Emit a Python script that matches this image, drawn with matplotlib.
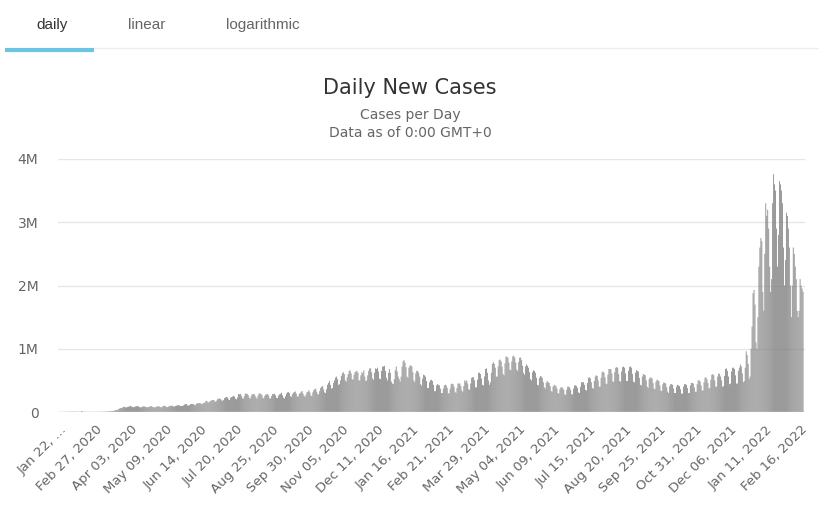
import matplotlib
matplotlib.use('Agg')
from matplotlib import pyplot as plt
from matplotlib.lines import Line2D
import numpy as np

# Daily new cases in thousands, one row per week (starting Wed Jan 22, 2020)
daily_k = [
    1, 0, 0, 1, 1, 1, 1,
    2, 2, 2, 3, 3, 3, 4,
    4, 3, 3, 3, 3, 3, 2,
    2, 15, 6, 3, 3, 2, 2,
    1, 1, 1, 1, 1, 1, 1,
    1, 1, 1, 2, 2, 2, 2,
    2, 3, 3, 4, 4, 4, 5,
    7, 8, 11, 11, 14, 14, 17,
    26, 30, 33, 38, 40, 58, 61,
    63, 72, 80, 82, 76, 71, 80,
    85, 88, 100, 86, 80, 74, 82,
    87, 90, 95, 87, 80, 72, 75,
    85, 88, 88, 82, 77, 73, 78,
    83, 86, 96, 85, 78, 70, 76,
    79, 88, 90, 90, 80, 72, 77,
    88, 95, 98, 90, 77, 77, 88,
    93, 98, 98, 99, 86, 86, 96,
    100, 107, 108, 103, 95, 95, 95,
    105, 118, 124, 126, 104, 102, 108,
    125, 128, 127, 129, 110, 108, 130,
    138, 140, 140, 140, 130, 120, 140,
    145, 148, 178, 172, 152, 152, 168,
    175, 188, 190, 188, 170, 160, 180,
    210, 205, 215, 205, 185, 175, 190,
    222, 230, 238, 230, 200, 190, 225,
    235, 245, 255, 245, 212, 200, 230,
    285, 280, 285, 260, 220, 210, 250,
    290, 290, 285, 265, 225, 210, 250,
    280, 285, 285, 260, 230, 210, 255,
    290, 295, 285, 270, 225, 215, 255,
    280, 275, 285, 260, 215, 215, 255,
    285, 280, 290, 265, 225, 220, 260,
    280, 290, 305, 265, 225, 215, 250,
    290, 310, 315, 300, 250, 240, 280,
    305, 315, 325, 290, 245, 245, 285,
    300, 320, 330, 290, 255, 240, 275,
    315, 320, 345, 310, 260, 250, 310,
    345, 360, 370, 320, 280, 280, 330,
    380, 400, 410, 360, 310, 300, 360,
    430, 460, 490, 430, 370, 380, 460,
    500, 545, 560, 520, 430, 440, 500,
    570, 610, 630, 600, 500, 480, 550,
    600, 650, 660, 610, 520, 510, 590,
    630, 640, 650, 620, 500, 500, 580,
    630, 610, 660, 560, 490, 500, 580,
    650, 690, 690, 630, 530, 510, 620,
    690, 680, 700, 640, 530, 520, 650,
    720, 720, 730, 650, 540, 500, 620,
    680, 620, 480, 450, 440, 520, 660,
    720, 640, 560, 520, 480, 560, 720,
    800, 820, 780, 710, 560, 540, 700,
    730, 740, 720, 630, 500, 470, 610,
    650, 650, 620, 560, 440, 420, 530,
    590, 580, 560, 490, 380, 380, 470,
    500, 510, 490, 430, 330, 330, 420,
    440, 430, 420, 370, 300, 300, 370,
    420, 430, 420, 380, 300, 290, 370,
    440, 450, 440, 400, 320, 300, 380,
    450, 450, 450, 410, 340, 320, 410,
    500, 480, 500, 450, 360, 350, 450,
    540, 550, 550, 500, 390, 390, 510,
    620, 620, 600, 530, 430, 420, 560,
    680, 690, 620, 500, 430, 470, 620,
    760, 790, 760, 700, 560, 560, 720,
    820, 830, 800, 720, 600, 580, 770,
    880, 870, 860, 780, 670, 660, 800,
    880, 890, 860, 780, 670, 650, 790,
    860, 860, 820, 730, 620, 590, 720,
    750, 730, 700, 630, 520, 500, 630,
    660, 650, 620, 540, 430, 420, 540,
    570, 560, 540, 470, 390, 370, 460,
    490, 470, 460, 410, 330, 320, 400,
    430, 420, 410, 370, 300, 290, 360,
    390, 390, 380, 350, 280, 270, 350,
    400, 400, 390, 350, 280, 280, 370,
    420, 420, 410, 380, 310, 300, 400,
    470, 470, 470, 430, 350, 340, 460,
    540, 550, 530, 470, 380, 370, 490,
    560, 580, 570, 500, 400, 400, 540,
    630, 640, 620, 550, 450, 440, 590,
    680, 680, 680, 610, 480, 480, 630,
    700, 710, 700, 600, 490, 480, 640,
    710, 720, 700, 610, 490, 490, 650,
    710, 720, 700, 600, 480, 470, 620,
    660, 650, 640, 540, 430, 420, 560,
    600, 590, 580, 500, 400, 380, 520,
    550, 540, 530, 460, 370, 360, 480,
    510, 500, 490, 420, 340, 330, 440,
    470, 460, 450, 390, 320, 300, 410,
    440, 440, 430, 370, 300, 300, 400,
    430, 420, 410, 360, 290, 290, 400,
    440, 440, 430, 380, 300, 300, 420,
    460, 460, 450, 390, 320, 320, 440,
    500, 500, 480, 420, 340, 340, 470,
    540, 550, 520, 460, 370, 380, 510,
    590, 600, 580, 500, 400, 400, 560,
    610, 600, 560, 500, 400, 410, 570,
    680, 690, 650, 560, 440, 450, 640,
    700, 700, 680, 580, 450, 450, 650,
    700, 750, 720, 610, 470, 490, 700,
    960, 900, 760, 520, 560, 1000, 1350,
    1880, 1930, 1700, 1100, 1000, 1500, 2300,
    2600, 2750, 2700, 1900, 1600, 2500, 3300,
    3100, 3200, 2900, 2300, 1900, 2100, 3300,
    3760, 3600, 3500, 2900, 2300, 2800, 3650,
    3600, 3500, 3300, 2600, 2000, 2400, 3150,
    3100, 2900, 2600, 2000, 1500, 2000, 2600,
    2500, 2300, 2100, 1600, 1500, 1600, 2100,
    2000, 1950, 1900,
]

tick_labels = ["Jan 22, \u2026", "Feb 27, 2020", "Apr 03, 2020", "May 09, 2020",
               "Jun 14, 2020", "Jul 20, 2020", "Aug 25, 2020", "Sep 30, 2020",
               "Nov 05, 2020", "Dec 11, 2020", "Jan 16, 2021", "Feb 21, 2021",
               "Mar 29, 2021", "May 04, 2021", "Jun 09, 2021", "Jul 15, 2021",
               "Aug 20, 2021", "Sep 25, 2021", "Oct 31, 2021", "Dec 06, 2021",
               "Jan 11, 2022", "Feb 16, 2022"]
tick_step = 36

y_ticks = [0, 1e6, 2e6, 3e6, 4e6]
y_tick_labels = ["0", "1M", "2M", "3M", "4M"]

values = np.array(daily_k) * 1000
x = np.arange(len(values))

fig = plt.figure(figsize=(8.2, 5.18), dpi=100)
fig.patch.set_facecolor('white')

# tabs at the top
fig.text(52 / 820, 1 - 25 / 518, 'daily', ha='center', va='center',
         fontsize=11, color='#333333', family='Liberation Sans')
fig.text(147 / 820, 1 - 25 / 518, 'linear', ha='center', va='center',
         fontsize=11, color='#666666', family='Liberation Sans')
fig.text(263 / 820, 1 - 25 / 518, 'logarithmic', ha='center', va='center',
         fontsize=11, color='#666666', family='Liberation Sans')
fig.add_artist(Line2D([94 / 820, 818 / 820], [1 - 48 / 518, 1 - 48 / 518],
                      color='#eeeeee', lw=1))
fig.add_artist(Line2D([5 / 820, 94 / 820], [1 - 49.5 / 518, 1 - 49.5 / 518],
                      color='#6bc4e2', lw=3, solid_capstyle='butt'))

# titles
fig.text(410 / 820, 1 - 88 / 518, 'Daily New Cases', ha='center', va='center',
         fontsize=15, color='#333333')
fig.text(410 / 820, 1 - 115 / 518, 'Cases per Day', ha='center', va='center',
         fontsize=10, color='#666666')
fig.text(410 / 820, 1 - 133 / 518, 'Data as of 0:00 GMT+0', ha='center', va='center',
         fontsize=10, color='#666666')

ax = fig.add_axes([58 / 820, (518 - 412) / 518, (805 - 58) / 820, (412 - 159) / 518])
bars = ax.bar(x, values, width=0.8, color='#808080', linewidth=0, zorder=2)
for b in bars:
    b.set_snap(False)

ax.set_xlim(-2, len(values) + 1)
ax.set_ylim(0, 4e6)
ax.set_yticks(y_ticks)
ax.set_yticklabels(y_tick_labels)
ax.yaxis.grid(True, color='#e6e6e6', lw=1, zorder=0)
ax.axhline(0, color='#ccd6eb', lw=1, zorder=3)

ax.set_xticks(np.arange(len(tick_labels)) * tick_step)
ax.set_xticklabels(tick_labels, rotation=45, ha='right', rotation_mode='anchor')

for s in ax.spines.values():
    s.set_visible(False)
ax.tick_params(axis='both', length=0, colors='#666666', labelsize=9.5)
ax.tick_params(axis='y', pad=14, labelsize=10)
ax.tick_params(axis='x', pad=8)

fig.savefig('out.png', dpi=100, facecolor='white')
